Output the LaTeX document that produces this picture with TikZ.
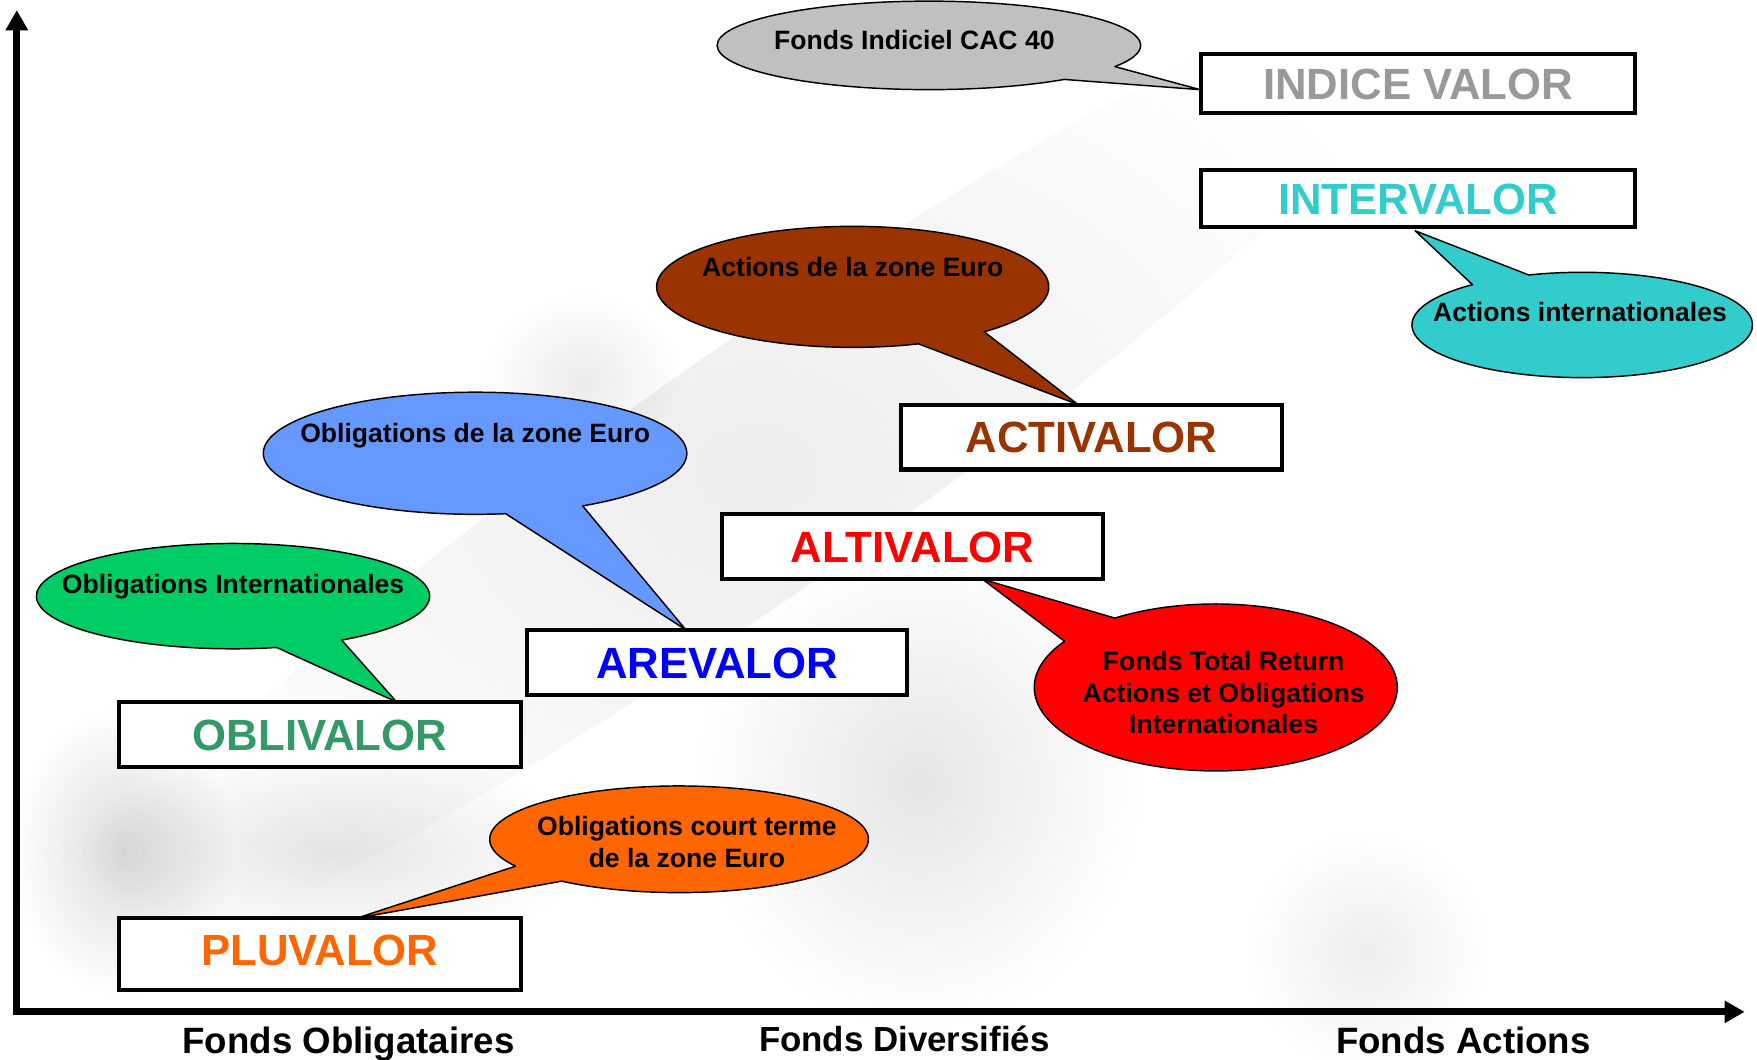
\documentclass[tikz,border=0pt]{standalone}
\usepackage{fontspec}
\setmainfont{Liberation Sans}
\usetikzlibrary{arrows.meta,fadings}
\tikzfading[name=softblob, inner color=transparent!0, outer color=transparent!100]
\definecolor{bgrey}{HTML}{C0C0C0}
\definecolor{bcyan}{HTML}{33CCCC}
\definecolor{bbrown}{HTML}{993300}
\definecolor{bblue}{HTML}{6699FF}
\definecolor{bgreen}{HTML}{00CC66}
\definecolor{bred}{HTML}{FF0000}
\definecolor{borange}{HTML}{FF6600}
\definecolor{tgrey}{HTML}{999999}
\definecolor{tcyan}{HTML}{33CCCC}
\definecolor{tbrown}{HTML}{993300}
\definecolor{tred}{HTML}{FF0000}
\definecolor{tblue}{HTML}{0000FF}
\definecolor{tgreen}{HTML}{339966}
\definecolor{torange}{HTML}{FF6600}
\newcommand{\speechbubble}[8]{%
  \draw[bubble, fill=#1] (#2,#3) ++(#6:#4 and #5)
    arc[start angle=#6, end angle=#7, x radius=#4, y radius=#5] -- #8 -- cycle;}
\begin{document}
\begin{tikzpicture}[x=1pt,y=-1pt,
  fundbox/.style={draw=black, line width=3.6pt, fill=white, inner sep=0pt,
    font=\fontsize{39}{39}\selectfont\bfseries, text height=28pt, text depth=0pt},
  bubble/.style={draw=black, line width=1.3pt, line join=round},
  btext/.style={font=\fontsize{23.7}{28.5}\selectfont\bfseries, anchor=base, inner sep=0pt},
  axislabel/.style={font=\fontsize{32.7}{33}\selectfont\bfseries, anchor=base, inner sep=0pt},
  axisline/.style={line width=6pt, -{Triangle[length=18pt,width=19pt]}},
  bgblob/.style={fill=black, path fading=softblob}]
\useasboundingbox (0,0) rectangle (1568,945.1);
\fill[white] (0,0) rectangle (1568,945.1);

% faint background photo (approximation)
\fill[bgblob, fill opacity=0.07, rotate around={35:(675,420)}] (675,420) ellipse [x radius=760, y radius=110];
\fill[bgblob, fill opacity=0.14] (110,760) ellipse [x radius=100, y radius=130];
\fill[bgblob, fill opacity=0.10] (300,760) ellipse [x radius=230, y radius=90];
\fill[bgblob, fill opacity=0.10] (820,700) ellipse [x radius=200, y radius=220];
\fill[bgblob, fill opacity=0.08] (520,340) ellipse [x radius=90, y radius=80];
\fill[bgblob, fill opacity=0.07] (1220,850) ellipse [x radius=110, y radius=110];

% tips of the bubbles
\coordinate (tipIndice) at (1071,80);
\coordinate (tipInter) at (1263,206);
\coordinate (tipActiv) at (962,361);
\coordinate (tipArev) at (612,562);
\coordinate (tipObliv) at (354,626.5);
\coordinate (tipAltiv) at (877,517);
\coordinate (tipPluv) at (318,819.5);

% speech bubbles
\speechbubble{bgrey}{829}{40.5}{189}{39.5}{50.3}{388.6}{(tipIndice)}
\speechbubble{bcyan}{1412}{290}{152}{47}{251.7}{589.9}{(tipInter)}
\speechbubble{bbrown}{761}{256}{175}{54}{70.4}{407.9}{(tipActiv)}
\speechbubble{bblue}{424}{404.5}{189}{54.5}{81.7}{419.5}{(tipArev)}
\speechbubble{bgreen}{208}{532}{175.5}{47}{77.2}{416.5}{(tipObliv)}
\speechbubble{bred}{1085}{613.5}{162}{74.5}{236.2}{573.6}{(tipAltiv)}
\speechbubble{borange}{606}{749}{169}{47.6}{149.7}{488.3}{(tipPluv)}

\node[btext] (tIndice) at (816,44.6) {Fonds Indiciel CAC 40};
\node[btext] (tInter) at (1410,287) {Actions internationales};
\node[btext] (tActiv) at (761,247) {Actions de la zone Euro};
\node[btext] (tArev) at (424,395) {Obligations de la zone Euro};
\node[btext] (tObliv) at (208,529.5) {Obligations Internationales};
\node[btext] (tAltivA) at (1092,598) {Fonds Total Return};
\node[btext] (tAltivB) at (1092,626.5) {Actions et Obligations};
\node[btext] (tAltivC) at (1092,655) {Internationales};
\node[btext] (tPluvA) at (613,746) {Obligations court terme};
\node[btext] (tPluvB) at (613,774.5) {de la zone Euro};

% fund boxes
\node[fundbox, minimum width=387pt, minimum height=53pt, text=tgrey] (indice) at (1265.5,74.5) {INDICE VALOR};
\node[fundbox, minimum width=387pt, minimum height=51pt, text=tcyan] (inter) at (1265.5,177.5) {INTERVALOR};
\node[fundbox, minimum width=340pt, minimum height=58pt, text=tbrown] (activ) at (974,390) {ACTIVALOR};
\node[fundbox, minimum width=339.5pt, minimum height=58pt, text=tred] (altiv) at (814.3,488) {ALTIVALOR};
\node[fundbox, minimum width=339.5pt, minimum height=58pt, text=tblue] (arev) at (640,591.2) {AREVALOR};
\node[fundbox, minimum width=359pt, minimum height=58pt, text=tgreen] (obliv) at (285.5,655.5) {OBLIVALOR};
\node[fundbox, minimum width=359pt, minimum height=64pt, text depth=8pt, text=torange] (pluv) at (285.5,851.5) {PLUVALOR};

% axes
\coordinate (ybottom) at (15,906);
\coordinate (ytop) at (15,9);
\coordinate (xstart) at (12,903);
\coordinate (xend) at (1557,903);
\draw[axisline] (ybottom) -- (ytop);
\draw[axisline] (xstart) -- (xend);

\node[axislabel] (lObl) at (311,940) {Fonds Obligataires};
\node[axislabel, font=\fontsize{31.1}{32}\selectfont\bfseries] (lDiv) at (807,938) {Fonds Diversifiés};
\node[axislabel] (lAct) at (1306,940) {Fonds Actions};
\end{tikzpicture}
\end{document}
